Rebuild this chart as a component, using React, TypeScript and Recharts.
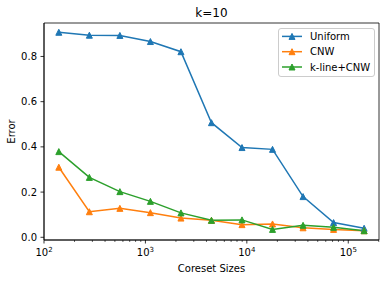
import React from 'react';
import { LineChart, Line, XAxis, YAxis, Legend, ReferenceArea } from 'recharts';

const sizes = [140, 280, 560, 1120, 2240, 4480, 8960, 17920, 35840, 71680, 143360];
const uniform = [0.907, 0.894, 0.893, 0.866, 0.821, 0.507, 0.397, 0.389, 0.18, 0.065, 0.04];
const cnw = [0.31, 0.113, 0.128, 0.109, 0.085, 0.075, 0.056, 0.059, 0.042, 0.035, 0.029];
const klineCnw = [0.379, 0.265, 0.202, 0.159, 0.108, 0.075, 0.077, 0.035, 0.053, 0.044, 0.029];

const seriesKeys = ['uniform', 'cnw', 'kline'];
const seriesNames = ['Uniform', 'CNW', 'k-line+CNW'];
const seriesColors = ['#1f77b4', '#ff7f0e', '#2ca02c'];

const xMajorTicks = [100, 1000, 10000, 100000];
const xMinorTicks = [
  200, 300, 400, 500, 600, 700, 800, 900,
  2000, 3000, 4000, 5000, 6000, 7000, 8000, 9000,
  20000, 30000, 40000, 50000, 60000, 70000, 80000, 90000,
  200000,
];
const yTicks = [0, 0.2, 0.4, 0.6, 0.8];
const xDomain = [100, 201000];
const yDomain = [-0.012, 0.948];

const title = 'k=10';
const xLabel = 'Coreset Sizes';
const yLabel = 'Error';

const FONT = '"DejaVu Sans", sans-serif';

const data = sizes.map((s, i) => ({
  size: s,
  uniform: uniform[i],
  cnw: cnw[i],
  kline: klineCnw[i],
}));

const allXTicks = [...xMajorTicks, ...xMinorTicks].sort((a, b) => a - b);

const XTick = (props: any) => {
  const { x, y, payload } = props;
  const v = payload.value;
  const major = xMajorTicks.includes(v);
  const exp = Math.round(Math.log10(v));
  return (
    <g>
      <line x1={x} x2={x} y1={y} y2={y + (major ? 3.5 : 2)} stroke="#000" strokeWidth={major ? 0.8 : 0.6} />
      {major && (
        <text x={x} y={y + 15.5} textAnchor="middle" fontSize={10} fontFamily={FONT} fill="#000">
          10<tspan dy={-4} fontSize={7}>{exp}</tspan>
        </text>
      )}
    </g>
  );
};

const YTick = (props: any) => {
  const { x, y, payload } = props;
  return (
    <g>
      <line x1={x - 3.5} x2={x} y1={y} y2={y} stroke="#000" strokeWidth={0.8} />
      <text x={x - 7} y={y + 3.5} textAnchor="end" fontSize={10} fontFamily={FONT} fill="#000">
        {Number(payload.value).toFixed(1)}
      </text>
    </g>
  );
};

const makeDot = (color: string) => (p: any) => {
  const { cx, cy, index } = p;
  if (cx == null || cy == null) return <g key={index} />;
  const r = 3;
  return (
    <polygon
      key={index}
      points={`${cx},${cy - r} ${cx - r},${cy + r} ${cx + r},${cy + r}`}
      fill={color}
      stroke={color}
      strokeWidth={1}
    />
  );
};

const LegendContent = () => {
  const rowY = (i: number) => 36.4 + i * 15.3;
  return (
    <svg width={389} height={282} style={{ position: 'absolute', left: 0, top: 0, overflow: 'visible' }}>
      <rect x={278.5} y={28.5} width={96} height={48} rx={2.5} fill="#fff" fillOpacity={0.8} stroke="#cccccc" strokeWidth={1} />
      {seriesNames.map((name, i) => {
        const cy = rowY(i);
        const c = seriesColors[i];
        return (
          <g key={name}>
            <line x1={282} x2={302} y1={cy} y2={cy} stroke={c} strokeWidth={1.5} />
            <polygon points={`292,${cy - 3} 289,${cy + 3} 295,${cy + 3}`} fill={c} stroke={c} strokeWidth={1} />
            <text x={310} y={cy + 3.6} fontSize={10} fontFamily={FONT} fill="#000">{name}</text>
          </g>
        );
      })}
    </svg>
  );
};

export default function App() {
  return (
    <div style={{ position: 'absolute', left: 0, top: 0, width: 389, height: 282, background: '#fff' }}>
      <LineChart width={389} height={282} data={data} margin={{ top: 23, right: 10, bottom: 0, left: 0 }}>
        <XAxis
          dataKey="size"
          type="number"
          scale="log"
          domain={xDomain}
          allowDataOverflow
          ticks={allXTicks}
          interval={0}
          tick={<XTick />}
          tickLine={false}
          tickSize={0}
          tickMargin={0}
          height={42}
          axisLine={{ stroke: '#000', strokeWidth: 0.8 }}
          label={{
            content: (p: any) => {
              const vb = p.viewBox || { x: 44, y: 240, width: 335 };
              return (
                <text x={vb.x + vb.width / 2} y={vb.y + 31.5} textAnchor="middle" fontSize={10} fontFamily={FONT} fill="#000">
                  {xLabel}
                </text>
              );
            },
          }}
        />
        <YAxis
          type="number"
          domain={yDomain}
          allowDataOverflow
          ticks={yTicks}
          interval={0}
          tick={<YTick />}
          tickLine={false}
          tickSize={0}
          tickMargin={0}
          width={44}
          axisLine={{ stroke: '#000', strokeWidth: 0.8 }}
          label={{
            content: (p: any) => {
              const vb = p.viewBox || { x: 0, y: 23, height: 217 };
              const cx = 14.5;
              const cy = vb.y + vb.height / 2;
              return (
                <text x={cx} y={cy} transform={`rotate(-90 ${cx} ${cy})`} textAnchor="middle" fontSize={10} fontFamily={FONT} fill="#000">
                  {yLabel}
                </text>
              );
            },
          }}
        />
        <ReferenceArea
          x1={xDomain[0]}
          x2={xDomain[1]}
          y1={yDomain[0]}
          y2={yDomain[1]}
          ifOverflow="visible"
          fill="none"
          fillOpacity={0}
          stroke="#000"
          strokeWidth={0.8}
          strokeOpacity={1}
          label={{
            content: (p: any) => {
              const vb = p.viewBox || { x: 44, y: 23, width: 335 };
              return (
                <text x={vb.x + vb.width / 2} y={vb.y - 6} textAnchor="middle" fontSize={12} fontFamily={FONT} fill="#000">
                  {title}
                </text>
              );
            },
          }}
        />
        {seriesKeys.map((k, i) => (
          <Line
            key={k}
            type="linear"
            dataKey={k}
            name={seriesNames[i]}
            stroke={seriesColors[i]}
            strokeWidth={1.5}
            dot={makeDot(seriesColors[i])}
            activeDot={false}
            isAnimationActive={false}
          />
        ))}
        <Legend
          layout="vertical"
          align="center"
          verticalAlign="middle"
          wrapperStyle={{ left: 0, top: 0 }}
          content={<LegendContent />}
        />
      </LineChart>
    </div>
  );
}
